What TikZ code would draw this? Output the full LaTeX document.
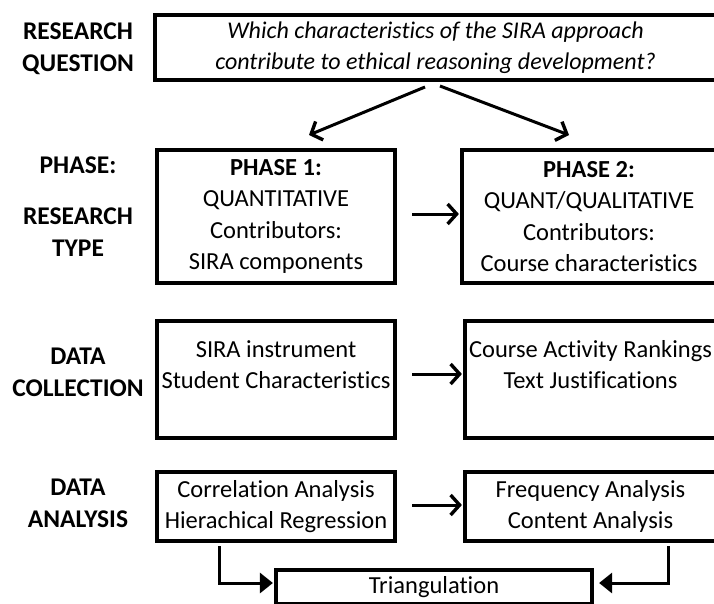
\documentclass[tikz,border=0pt]{standalone}
\usepackage{fontspec}
\setmainfont{Carlito}[Ligatures=NoCommon]
\usetikzlibrary{arrows.meta}
\begin{document}
\begin{tikzpicture}[x=1pt,y=-1pt,
  lbl/.style={font=\fontsize{25.5}{32}\selectfont\bfseries, align=center},
  box/.style={draw, line width=4.2pt, rectangle, inner sep=0pt, align=center,
    font=\fontsize{24.5}{31.5}\selectfont},
  arr/.style={line width=3pt, -{Straight Barb[length=9pt,width=20pt,line width=3.4pt]}},
  tarr/.style={line width=3pt, -{Triangle[length=13pt,width=20pt]}}]
\useasboundingbox (0,0) rectangle (714,603);
\fill[white] (0,0) rectangle (714,603);
% row labels
\node[lbl] (l1) at (78,49) {RESEARCH\\QUESTION};
\node[lbl] (l2) at (78,165) {PHASE:};
\node[lbl] (l3) at (78,232) {RESEARCH\\TYPE};
\node[lbl] (l4) at (78,372) {DATA\\COLLECTION};
\node[lbl] (l5) at (78,503) {DATA\\ANALYSIS};
% boxes
\node[box, minimum width=561pt, minimum height=65pt,
  font=\fontsize{24}{31}\selectfont\itshape] (q) at (435.5,47.5)
  {Which characteristics of the SIRA approach\\contribute to ethical reasoning development?};
\node[box, minimum width=238pt, minimum height=133pt] (p1) at (276,216.5)
  {\textbf{PHASE 1:}\\QUANTITATIVE\\Contributors:\\SIRA components};
\node[box, minimum width=254pt, minimum height=133pt] (p2) at (589,216.5)
  {\textbf{PHASE 2:}\\QUANT/QUALITATIVE\\Contributors:\\Course characteristics};
\node[box, minimum width=238pt, minimum height=117pt, text depth=30pt] (c1) at (276,379.5)
  {SIRA instrument\\Student Characteristics};
\node[box, minimum width=251pt, minimum height=117pt, text depth=30pt] (c2) at (590.5,379.5)
  {Course Activity Rankings\\Text Justifications};
\node[box, minimum width=238pt, minimum height=69pt] (a1) at (276,506.5)
  {Correlation Analysis\\Hierachical Regression};
\node[box, minimum width=251pt, minimum height=69pt] (a2) at (590.5,506.5)
  {Frequency Analysis\\Content Analysis};
\node[box, minimum width=316pt, minimum height=34pt] (t) at (434,587)
  {Triangulation};
% connector end points
\coordinate (qs1) at (425,87);
\coordinate (qs2) at (440,86);
\coordinate (pe1) at (309,135);
\coordinate (pe2) at (569,135);
\coordinate (h1) at (412,214);
\coordinate (h2) at (412,374);
\coordinate (h3) at (412,505);
\coordinate (s1) at (219,546);
\coordinate (s2) at (668,546);
% connectors
\draw[arr] (qs1) -- (pe1);
\draw[arr] (qs2) -- (pe2);
\draw[arr] (h1) -- ([xshift=-1pt]p2.west |- h1);
\draw[arr] (h2) -- ([xshift=-1pt]c2.west |- h2);
\draw[arr] (h3) -- ([xshift=-1pt]a2.west |- h3);
\draw[tarr] (s1) |- ([xshift=-1pt]t.west |- 0,583);
\draw[tarr] (s2) |- ([xshift=5pt]t.east |- 0,583);
\end{tikzpicture}
\end{document}
